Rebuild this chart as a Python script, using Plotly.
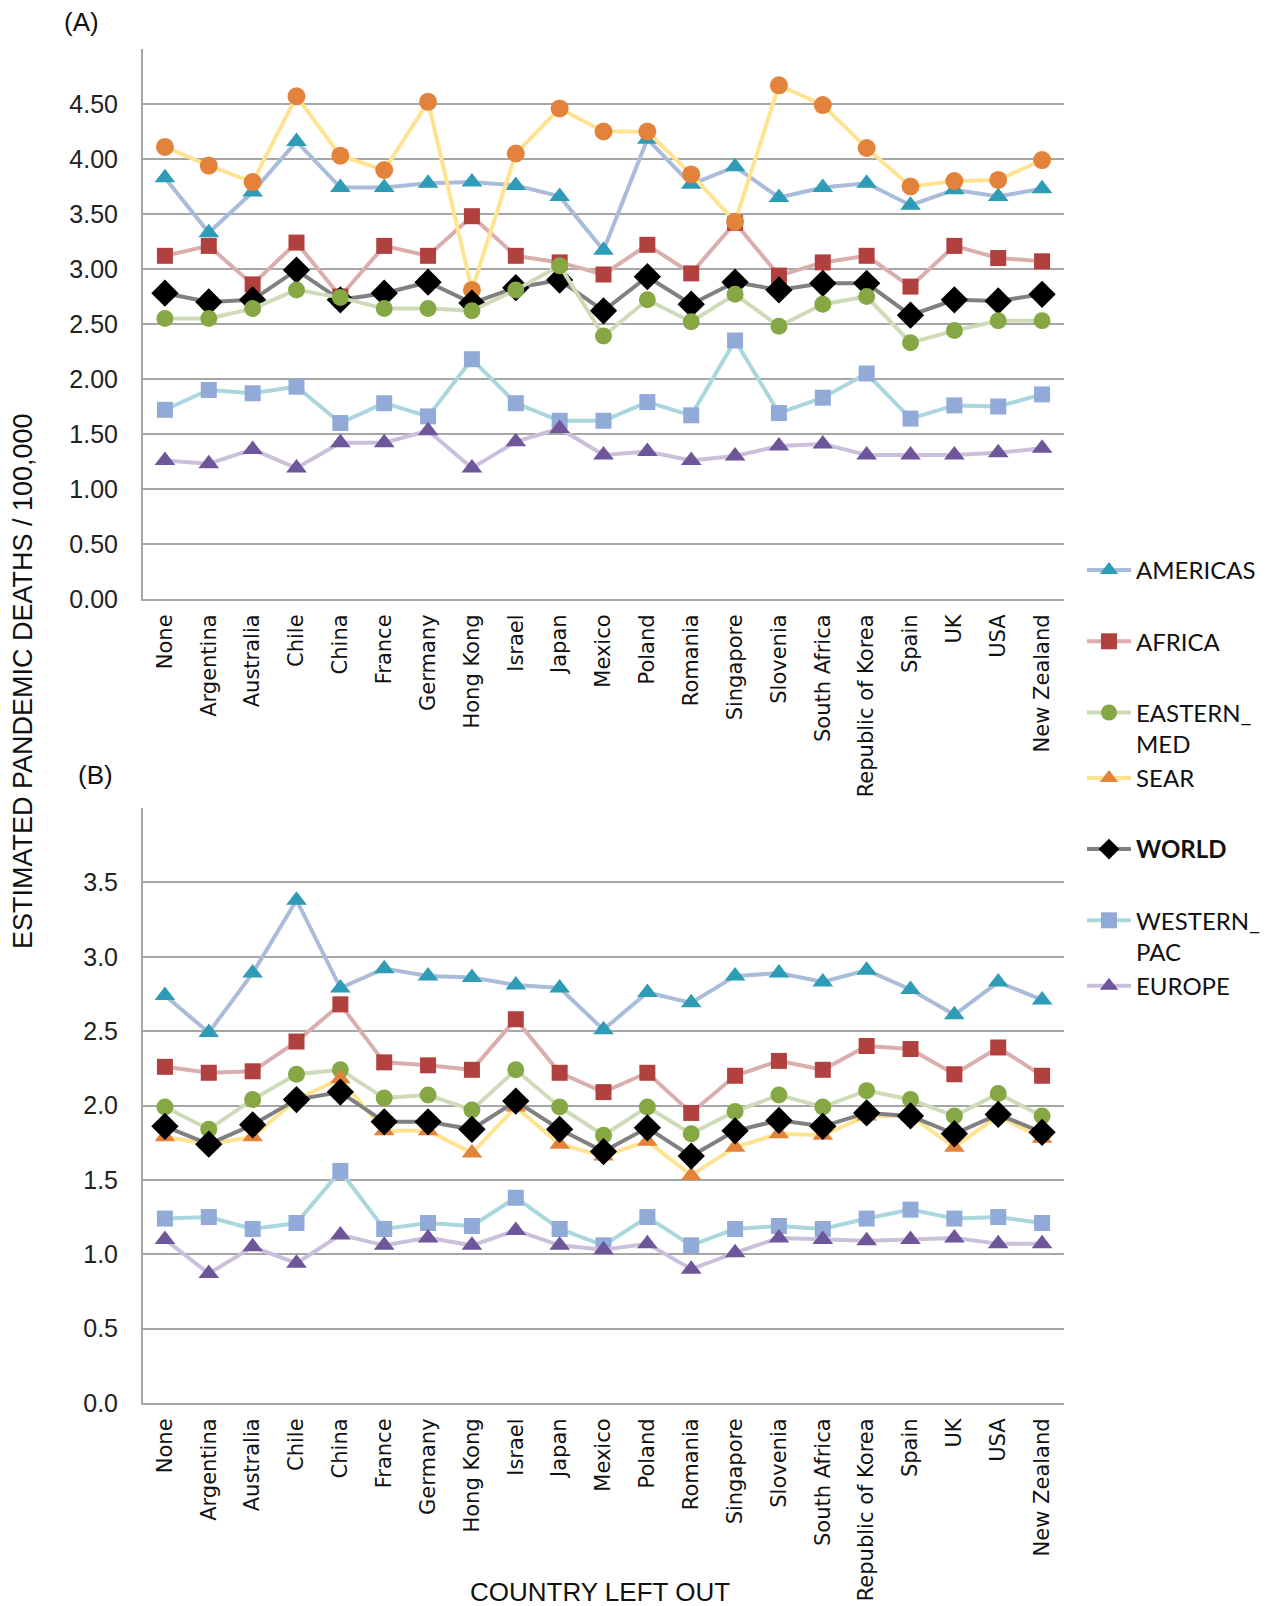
import plotly.graph_objects as go

W, H = 1266, 1606

countries = ["None", "Argentina", "Australia", "Chile", "China", "France", "Germany",
             "Hong Kong", "Israel", "Japan", "Mexico", "Poland", "Romania", "Singapore",
             "Slovenia", "South Africa", "Republic of Korea", "Spain", "UK", "USA",
             "New Zealand"]

# panel (A)
a_americas = [3.83, 3.33, 3.70, 4.16, 3.74, 3.74, 3.78, 3.79, 3.76, 3.66, 3.17,
              4.18, 3.77, 3.93, 3.65, 3.74, 3.78, 3.58, 3.72, 3.66, 3.73]
a_africa = [3.12, 3.21, 2.86, 3.24, 2.75, 3.21, 3.12, 3.48, 3.12, 3.06, 2.95,
            3.22, 2.96, 3.42, 2.94, 3.06, 3.12, 2.84, 3.21, 3.10, 3.07]
a_eastern_med = [2.55, 2.55, 2.64, 2.81, 2.74, 2.64, 2.64, 2.62, 2.81, 3.03, 2.39,
                 2.72, 2.52, 2.77, 2.48, 2.68, 2.75, 2.33, 2.44, 2.53, 2.53]
a_sear = [4.11, 3.94, 3.79, 4.57, 4.03, 3.90, 4.52, 2.81, 4.05, 4.46, 4.25,
          4.25, 3.86, 3.43, 4.67, 4.49, 4.10, 3.75, 3.80, 3.81, 3.99]
a_world = [2.78, 2.70, 2.72, 2.99, 2.72, 2.78, 2.88, 2.69, 2.83, 2.90, 2.62,
           2.93, 2.68, 2.88, 2.81, 2.87, 2.87, 2.58, 2.72, 2.71, 2.77]
a_western_pac = [1.72, 1.90, 1.87, 1.93, 1.60, 1.78, 1.66, 2.18, 1.78, 1.62, 1.62,
                 1.79, 1.67, 2.35, 1.69, 1.83, 2.05, 1.64, 1.76, 1.75, 1.86]
a_europe = [1.26, 1.23, 1.36, 1.19, 1.42, 1.42, 1.53, 1.19, 1.43, 1.55, 1.31,
            1.34, 1.26, 1.30, 1.39, 1.41, 1.31, 1.31, 1.31, 1.33, 1.37]

# panel (B)
b_americas = [2.74, 2.49, 2.89, 3.38, 2.79, 2.92, 2.87, 2.86, 2.81, 2.79, 2.51,
              2.76, 2.69, 2.87, 2.89, 2.83, 2.91, 2.78, 2.61, 2.83, 2.71]
b_africa = [2.26, 2.22, 2.23, 2.43, 2.68, 2.29, 2.27, 2.24, 2.58, 2.22, 2.09,
            2.22, 1.95, 2.20, 2.30, 2.24, 2.40, 2.38, 2.21, 2.39, 2.20]
b_eastern_med = [1.99, 1.84, 2.04, 2.21, 2.24, 2.05, 2.07, 1.97, 2.24, 1.99, 1.80,
                 1.99, 1.81, 1.96, 2.07, 1.99, 2.10, 2.04, 1.93, 2.08, 1.93]
b_sear = [1.79, 1.74, 1.79, 2.04, 2.18, 1.83, 1.83, 1.68, 1.99, 1.74, 1.66,
          1.76, 1.53, 1.72, 1.81, 1.80, 1.93, 1.93, 1.72, 1.93, 1.78]
b_world = [1.86, 1.74, 1.87, 2.04, 2.09, 1.89, 1.89, 1.84, 2.03, 1.84, 1.69,
           1.85, 1.66, 1.83, 1.90, 1.86, 1.95, 1.93, 1.81, 1.94, 1.82]
b_western_pac = [1.24, 1.25, 1.17, 1.21, 1.56, 1.17, 1.21, 1.19, 1.38, 1.17, 1.06,
                 1.25, 1.06, 1.17, 1.19, 1.17, 1.24, 1.30, 1.24, 1.25, 1.21]
b_europe = [1.10, 0.87, 1.05, 0.94, 1.13, 1.06, 1.11, 1.06, 1.16, 1.06, 1.03,
            1.07, 0.90, 1.01, 1.11, 1.10, 1.09, 1.10, 1.11, 1.07, 1.07]

a_ticks = [0, 0.5, 1, 1.5, 2, 2.5, 3, 3.5, 4, 4.5, 5]
b_ticks = [0, 0.5, 1, 1.5, 2, 2.5, 3, 3.5, 4]

# legend rank, line colour, marker colour, symbol, size, legend group
styles = {
    "AMERICAS": (1, "#a9bcd9", "#2e9cb7", "triangle-up", 18, "g1"),
    "AFRICA": (2, "#dbaeae", "#b0413e", "square", 16, "g2"),
    "EASTERN_MED": (3, "#cfdbb8", "#86a844", "circle", 17, "g3"),
    "SEAR": (4, "#ffe391", "#e3823a", "triangle-up", 18, "g3"),
    "WORLD": (5, "#808080", "#000000", "diamond", 21, "g4"),
    "WESTERN_PAC": (6, "#aad6de", "#91aad8", "square", 16, "g5"),
    "EUROPE": (7, "#cbc0dc", "#6f5599", "triangle-up", 18, "g5"),
}
labels = {
    "AMERICAS": "AMERICAS", "AFRICA": "AFRICA", "EASTERN_MED": "EASTERN_<br>MED",
    "SEAR": "SEAR", "WORLD": "<b>WORLD</b>", "WESTERN_PAC": "WESTERN_<br>PAC",
    "EUROPE": "EUROPE",
}


def px_x(x):
    return x / W


def px_y(y):
    return 1 - y / H


def line_trace(name, y, axis, legend, symbol=None):
    rank, lc, mc, sym, size, group = styles[name]
    if symbol is not None:
        sym = symbol
    return go.Scatter(
        x=countries, y=y, name=labels[name], mode="lines+markers",
        xaxis="x" + axis, yaxis="y" + axis,
        line=dict(color=lc, width=4),
        marker=dict(color=mc, symbol=sym, size=size, line=dict(width=0)),
        showlegend=legend, legendrank=rank, legendgroup=group,
    )


fig = go.Figure()

# panel A (SEAR drawn with circles there)
order_a = [("AMERICAS", a_americas), ("AFRICA", a_africa), ("SEAR", a_sear),
           ("WORLD", a_world), ("EASTERN_MED", a_eastern_med),
           ("WESTERN_PAC", a_western_pac), ("EUROPE", a_europe)]
for name, vals in order_a:
    sym = "circle" if name == "SEAR" else None
    fig.add_trace(line_trace(name, vals, "", False, sym))

order_b = [("AMERICAS", b_americas), ("AFRICA", b_africa), ("EASTERN_MED", b_eastern_med),
           ("SEAR", b_sear), ("WORLD", b_world),
           ("WESTERN_PAC", b_western_pac), ("EUROPE", b_europe)]
for name, vals in order_b:
    fig.add_trace(line_trace(name, vals, "2", True))

grid = "#a6a6a6"
tickfont_y = dict(family="Liberation Sans, Arial", size=25, color="#222")
tickfont_x = dict(family="DejaVu Sans", size=21, color="#111")


def xaxis(domain, anchor):
    return dict(domain=domain, anchor=anchor, type="category", tickangle=-90,
                showgrid=False, showline=True, linecolor=grid, linewidth=2,
                ticks="", tickfont=tickfont_x, ticklabelstandoff=5,
                range=[-0.5, 20.5], fixedrange=True, automargin=False)


def yaxis(domain, anchor, ticks, fmt):
    text = [fmt.format(t) for t in ticks[:-1]] + [""]
    return dict(domain=domain, anchor=anchor, range=[0, ticks[-1]],
                tickvals=ticks, ticktext=text, showgrid=True, gridcolor=grid,
                gridwidth=1.5, showline=True, linecolor=grid, linewidth=2,
                zeroline=False, ticks="", tickfont=tickfont_y, ticklabelstandoff=18,
                fixedrange=True, automargin=False)


x_dom = [px_x(143), px_x(1064)]
title_font = dict(family="Liberation Sans, Arial", size=26, color="#111")
fig.update_layout(
    width=W, height=H,
    margin=dict(l=0, r=0, t=0, b=0),
    paper_bgcolor="white", plot_bgcolor="white",
    xaxis=xaxis(x_dom, "y"),
    yaxis=yaxis([px_y(599), px_y(49)], "x", a_ticks, "{:.2f}"),
    xaxis2=xaxis(x_dom, "y2"),
    yaxis2=yaxis([px_y(1403), px_y(808)], "x2", b_ticks, "{:.1f}"),
    legend=dict(
        x=px_x(1082), y=px_y(548), xanchor="left", yanchor="top",
        font=dict(family="Lato, Open Sans", size=24, color="#111"),
        tracegroupgap=37, itemwidth=44, valign="top", bgcolor="rgba(0,0,0,0)",
    ),
    annotations=[
        dict(text="(A)", x=px_x(82), y=px_y(22), xref="paper", yref="paper",
             xanchor="center", yanchor="middle", showarrow=False, font=title_font),
        dict(text="(B)", x=px_x(95), y=px_y(775), xref="paper", yref="paper",
             xanchor="center", yanchor="middle", showarrow=False, font=title_font),
        dict(text="ESTIMATED PANDEMIC DEATHS / 100,000", textangle=-90,
             x=px_x(23), y=px_y(681), xref="paper", yref="paper",
             xanchor="center", yanchor="middle", showarrow=False,
             font=dict(family="Liberation Sans, Arial", size=27, color="#111")),
        dict(text="COUNTRY LEFT OUT", x=px_x(600), y=px_y(1592), xref="paper",
             yref="paper", xanchor="center", yanchor="middle", showarrow=False,
             font=title_font),
    ],
)

# drop the default page margin so the figure sits at the top-left corner
fig.write_html("out.html", config={"displayModeBar": False},
               post_script="document.body.style.margin='0';")
